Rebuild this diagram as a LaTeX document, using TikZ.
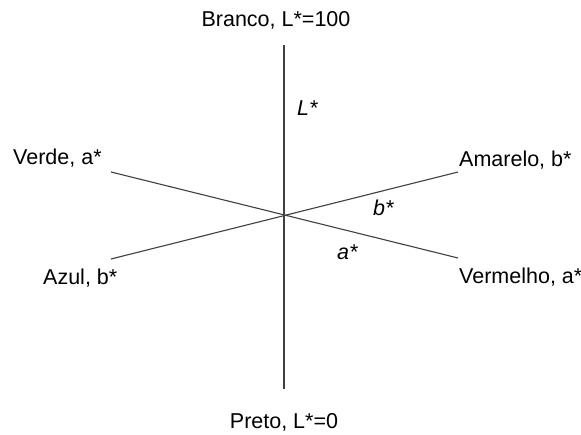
\documentclass[tikz,border=0pt]{standalone}
\usepackage{fontspec}
\setmainfont{Liberation Sans}
\begin{document}
\begin{tikzpicture}[x=1pt,y=-1pt,
  lbl/.style={font=\fontsize{21.5}{25}\selectfont, inner sep=0pt, text=black},
  ilbl/.style={lbl, font=\fontsize{21.5}{25}\selectfont\itshape},
  axis/.style={line width=1.1pt, draw=black!75}]
\useasboundingbox (0,0) rectangle (581,434);
\fill[white] (0,0) rectangle (581,434);
% axis ends
\coordinate (top) at (284,45);
\coordinate (bot) at (284,389);
\coordinate (gL) at (111,172);
\coordinate (rR) at (458,258);
\coordinate (bL) at (111,259);
\coordinate (yR) at (458,172);
\draw[axis] (top) -- (bot);
\draw[axis] (gL) -- (rR);
\draw[axis] (bL) -- (yR);
% labels
\node[lbl, anchor=center] (branco) at (276,20) {Branco, L*=100};
\node[lbl, anchor=center] (preto) at (284,422) {Preto, L*=0};
\node[lbl, anchor=west] (verde) at (13,158) {Verde, a*};
\node[lbl, anchor=west] (azul) at (43,278) {Azul, b*};
\node[lbl, anchor=west] (amarelo) at (459,160) {Amarelo, b*};
\node[lbl, anchor=west] (vermelho) at (459,277) {Vermelho, a*};
\node[ilbl, anchor=west] (Lst) at (297,108) {L*};
\node[ilbl, anchor=west] (bst) at (373,208) {b*};
\node[ilbl, anchor=west] (ast) at (337,252) {a*};
\end{tikzpicture}
\end{document}
